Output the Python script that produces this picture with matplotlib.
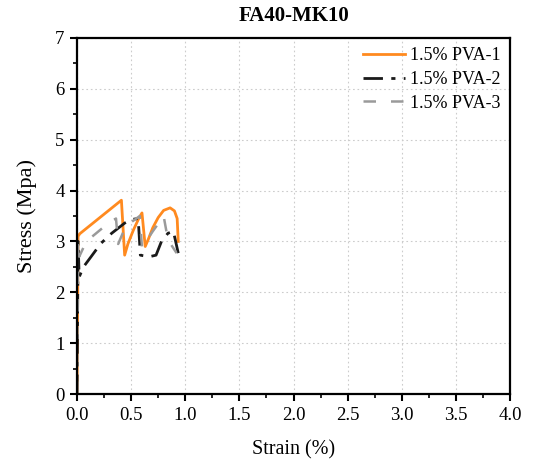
import matplotlib
matplotlib.use("Agg")
import matplotlib.pyplot as plt
from matplotlib.ticker import MultipleLocator, FormatStrFormatter

# Data (strain %, stress MPa)
strain_1 = [0.0, 0.005, 0.01, 0.025, 0.41, 0.44, 0.47, 0.52, 0.57, 0.60, 0.63,
            0.66, 0.70, 0.75, 0.80, 0.86, 0.90, 0.925, 0.935]
stress_1 = [0.0, 1.5, 3.10, 3.15, 3.81, 2.73, 2.95, 3.22, 3.45, 3.56, 2.90,
            3.05, 3.27, 3.47, 3.61, 3.66, 3.60, 3.45, 3.00]

strain_2 = [0.0, 0.005, 0.01, 0.02, 0.06, 0.13, 0.22, 0.32, 0.44, 0.50, 0.565,
            0.585, 0.61, 0.67, 0.73, 0.78, 0.84, 0.89, 0.935]
stress_2 = [0.0, 1.5, 3.00, 2.30, 2.50, 2.70, 2.96, 3.16, 3.36, 3.43, 3.45,
            2.73, 2.72, 2.70, 2.73, 3.00, 3.16, 3.20, 2.77]

strain_3 = [0.0, 0.005, 0.01, 0.02, 0.086, 0.29, 0.36, 0.38, 0.45, 0.58, 0.60,
            0.70, 0.80, 0.84, 0.92]
stress_3 = [0.0, 1.5, 3.00, 2.70, 3.00, 3.36, 3.45, 2.95, 3.30, 3.50, 2.88,
            3.20, 3.50, 3.03, 2.77]

labels = ["1.5% PVA-1", "1.5% PVA-2", "1.5% PVA-3"]
title = "FA40-MK10"

plt.rcParams['font.family'] = ['Liberation Serif', 'DejaVu Serif']

fig = plt.figure(figsize=(5.33, 4.63), dpi=100)
ax = fig.add_axes([0.1445, 0.149, 0.8125, 0.769])

ax.plot(strain_1, stress_1, color='#FF8A1F', lw=2.0, ls='-', label=labels[0])
ax.plot(strain_2, stress_2, color='#1a1a1a', lw=2.0, dashes=(7, 3, 1.5, 3), label=labels[1])
ax.plot(strain_3, stress_3, color='#9a9a9a', lw=1.8, dashes=(5, 6), label=labels[2])

ax.set_xlim(0, 4.0)
ax.set_ylim(0, 7)
ax.xaxis.set_major_locator(MultipleLocator(0.5))
ax.xaxis.set_minor_locator(MultipleLocator(0.25))
ax.yaxis.set_major_locator(MultipleLocator(1))
ax.yaxis.set_minor_locator(MultipleLocator(0.5))
ax.xaxis.set_major_formatter(FormatStrFormatter('%.1f'))

ax.grid(True, which='major', color='#cccccc', ls=(0, (1.5, 2.5)), lw=0.8)
ax.set_axisbelow(True)

for s in ax.spines.values():
    s.set_linewidth(1.6)
ax.tick_params(which='major', direction='out', length=5, width=1.5, labelsize=13.5, pad=4)
ax.tick_params(which='minor', direction='out', length=3, width=1.2)

ax.set_xlabel("Strain (%)", fontsize=14.5, labelpad=12)
ax.set_ylabel("Stress (Mpa)", fontsize=16, labelpad=13)
ax.set_title(title, fontsize=15, fontweight='bold', pad=12)

leg = ax.legend(loc='upper right', frameon=False, fontsize=13, handlelength=2.3,
                handletextpad=0.3, labelspacing=0.38, borderaxespad=0.1)

fig.savefig("out.png", dpi=100)
